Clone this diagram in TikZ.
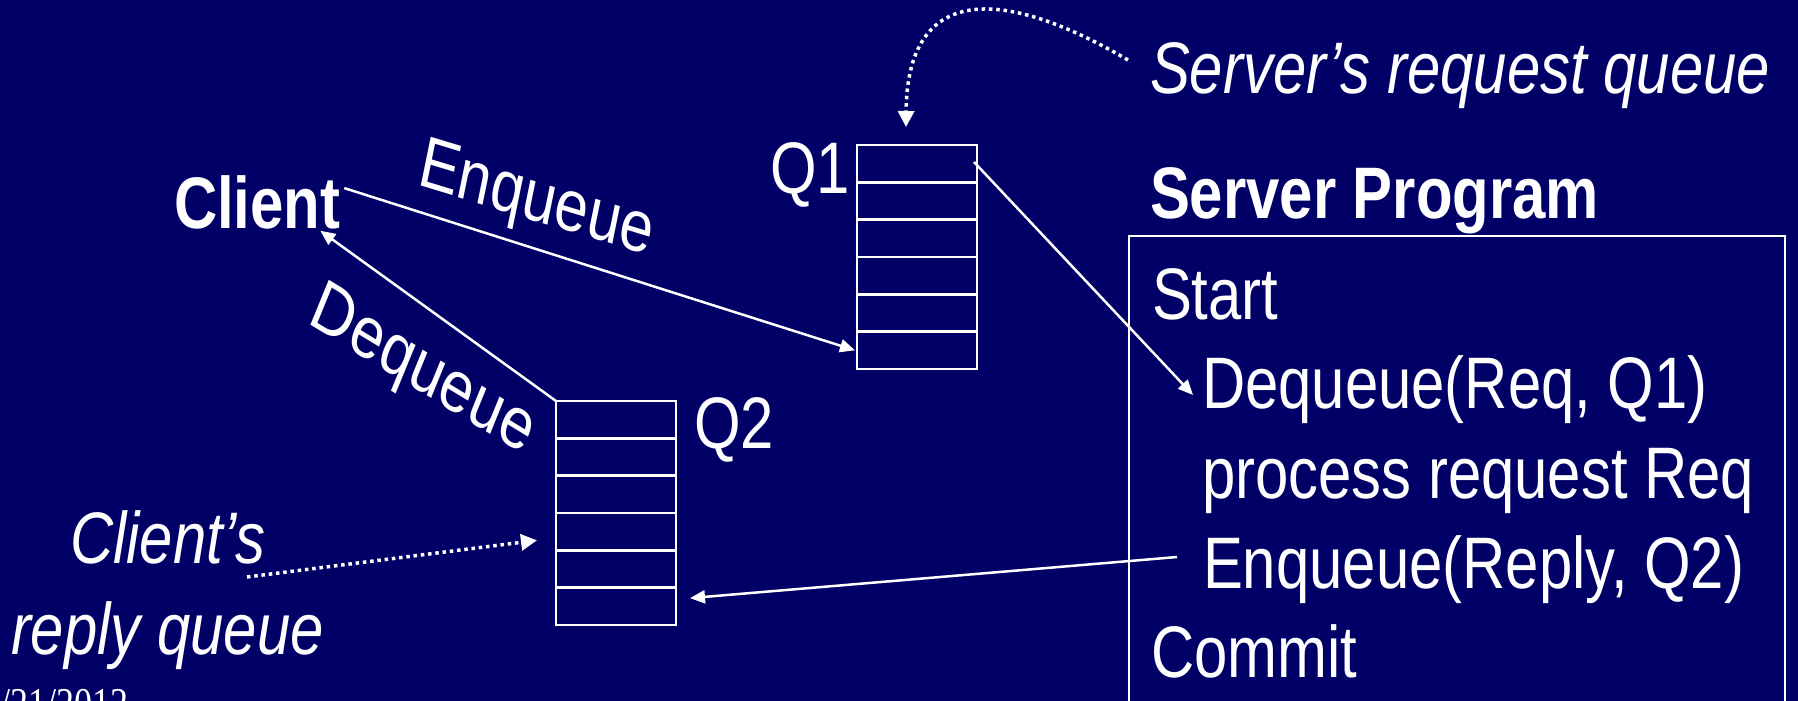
\documentclass[tikz,border=0pt]{standalone}
\usepackage{fontspec}
\setmainfont{Liberation Sans}
\newfontfamily\datefont{Liberation Serif}
\usetikzlibrary{arrows.meta,calc}
\definecolor{slidebg}{RGB}{0,0,102}

\begin{document}
\begin{tikzpicture}[x=1pt,y=-1pt,
  lbl/.style={text=white, inner sep=0pt, outer sep=0pt, xscale=0.82,
              font=\fontsize{73}{80}\selectfont},
  boldlbl/.style={lbl, font=\fontsize{73}{80}\selectfont\bfseries},
  itlbl/.style={lbl, font=\fontsize{73}{80}\selectfont\itshape},
  qbox/.style={draw=white, line width=2.5pt, inner sep=0pt, outer sep=0pt,
               minimum width=120pt, minimum height=224pt, anchor=north west},
  cell/.style={draw=white, line width=2.5pt},
  pbox/.style={draw=white, line width=2pt, inner sep=0pt, outer sep=0pt,
               minimum width=656pt, minimum height=520pt, anchor=north west},
  flow/.style={draw=white, line width=2.5pt, -{Triangle[length=15pt,width=13pt]}},
  hint/.style={draw=white, line width=3.5pt, dash pattern=on 3.5pt off 3.8pt,
               -{Triangle[length=16pt,width=16pt]}}
]
% page and background
\useasboundingbox (0,0) rectangle (1798,701);
\clip (0,0) rectangle (1798,701);
\fill[slidebg] (0,0) rectangle (1798,701);

% queues
\node[qbox] (q1) at (857,145) {};
\node[qbox] (q2) at (556,401) {};
\foreach \q in {q1,q2}{
  \foreach \i in {1,...,5}{
    \draw[cell] ($(\q.north west)!\i/6!(\q.south west)$) -- ($(\q.north east)!\i/6!(\q.south east)$);
  }
}
\node[lbl, anchor=base east] (q1lbl) at (850,193) {Q1};
\node[lbl, anchor=base west] (q2lbl) at (694,448) {Q2};

% client side
\node[boldlbl, anchor=base west] (client) at (174,228) {Client};
\node[itlbl, anchor=base west] (clq1) at (70,563) {Client’s};
\node[itlbl, anchor=base west] (clq2) at (11,654) {reply queue};

% server side
\node[itlbl, anchor=base west] (srq) at (1150,93) {Server’s request queue};
\node[boldlbl, anchor=base west] (sprog) at (1150,218) {Server Program};
\node[pbox] (prog) at (1129,236) {};
\node[lbl, anchor=base west] (pstart) at (1152,319) {Start};
\node[lbl, anchor=base west] (pdeq) at (1202,408) {Dequeue(Req, Q1)};
\node[lbl, anchor=base west] (pproc) at (1202,498) {process request Req};
\node[lbl, anchor=base west] (penq) at (1203,588) {Enqueue(Reply, Q2)};
\node[lbl, anchor=base west] (pcommit) at (1151,677) {Commit};

% rotated connector labels
\node[lbl, anchor=center, rotate=-14] (enqword) at (536,203) {Enqueue};
\node[lbl, anchor=center, rotate=-26.5] (deqword) at (422,373) {Dequeue};

% date footer
\node[text=white, inner sep=0pt, xscale=0.82, anchor=base west,
      font=\fontsize{44}{50}\selectfont\datefont] (date) at (0,718) {/21/2012};

% connectors
\coordinate (q1low) at ($(q1.north west)!11/12!(q1.south west)$);
\coordinate (q2low) at ($(q2.north east)!0.88!(q2.south east)$);
\draw[flow] ([shift={(4pt,-13pt)}]client.north east) -- ([xshift=-2pt]q1low);
\draw[flow] (q2.north west) -- ([shift={(-20pt,-2pt)}]client.south east);
\draw[flow] ([shift={(-3pt,-17pt)}]q1.north east) -- ([shift={(-9pt,13pt)}]pdeq.base west);
\draw[flow] ([shift={(-26pt,31pt)}]penq.base west) -- ([xshift=14pt]q2low);

% dotted pointers from the captions
\coordinate (srqtail) at (1128,60);
\draw[hint] (srqtail) .. controls (1000,-15) and (907,-15) .. ([shift={(-11pt,18pt)}]q1.north);
\coordinate (clqtail) at (247,577);
\coordinate (q2mid) at ($(q2.north west)!0.622!(q2.south west)$);
\draw[hint] (clqtail) -- ([xshift=-19pt]q2mid);
\end{tikzpicture}
\end{document}
